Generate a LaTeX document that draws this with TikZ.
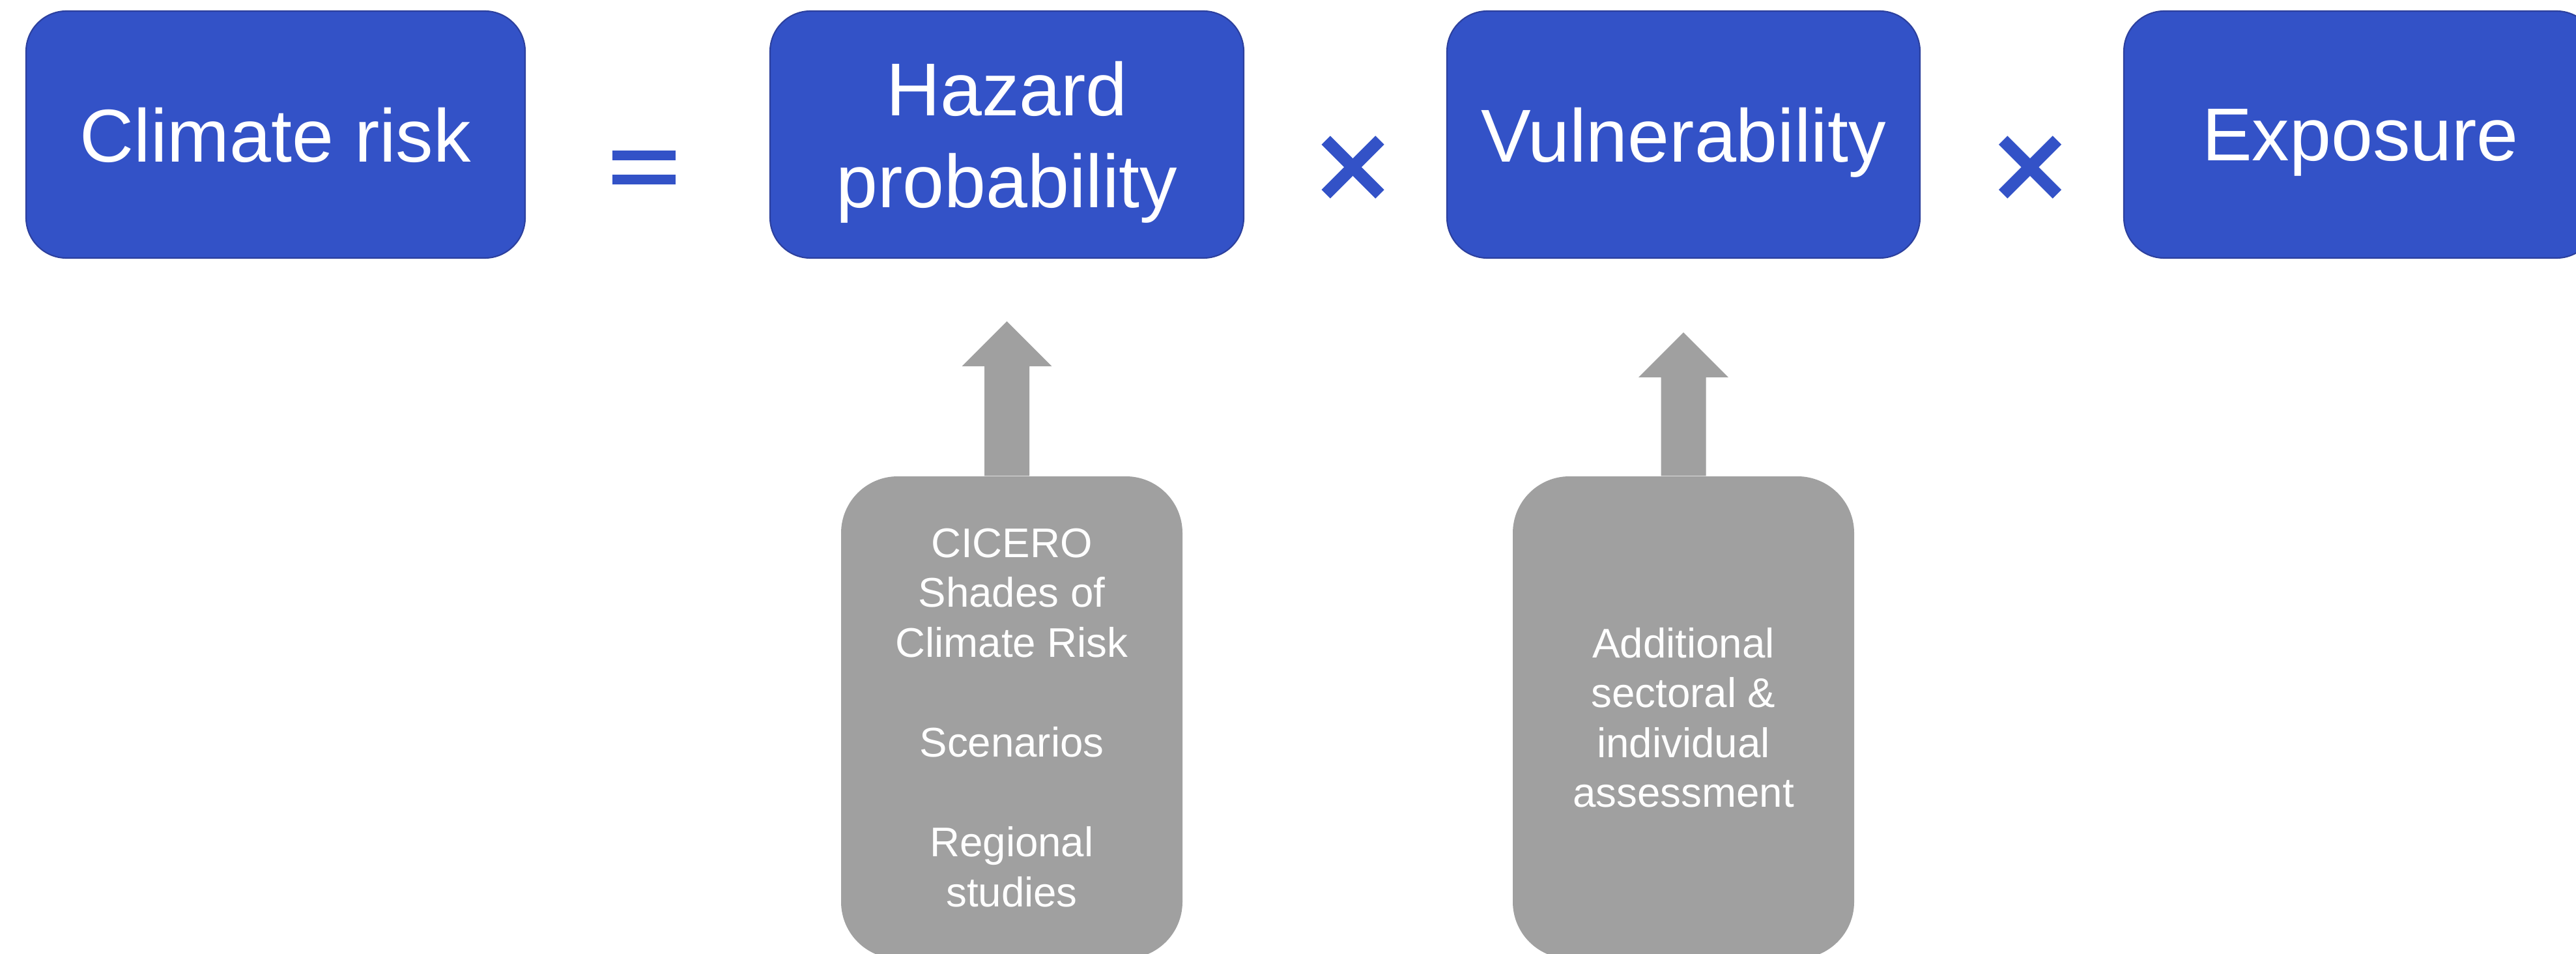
\documentclass[tikz,border=0pt]{standalone}
\usepackage{fontspec}
\setmainfont{Liberation Sans}
\usetikzlibrary{calc}

\definecolor{riskblue}{RGB}{51,82,199}
\definecolor{riskedge}{RGB}{44,64,158}
\definecolor{srcgrey}{RGB}{160,160,160}

\tikzset{
  factor/.style={draw=riskedge, line width=0.6pt, fill=riskblue, rounded corners=0.62cm,
    minimum width=7.26cm, minimum height=3.79cm, inner sep=0pt, text=white, align=center,
    font=\fontsize{32.7}{40.1}\selectfont, text depth=0pt},
  source/.style={fill=srcgrey, rounded corners=0.87cm, minimum width=5.24cm,
    minimum height=7.40cm, inner sep=0pt, text=white, align=center,
    font=\fontsize{18.1}{21.8}\selectfont, text depth=0pt},
}

% block arrow from a source box up to a tip
\newcommand{\liftarrow}[2]{%
  \fill[srcgrey] ($(#2 |- #1.north)+(-0.345,0)$) -- ($(#2)+(-0.345,-0.69)$)
    -- ($(#2)+(-0.69,-0.69)$) -- (#2) -- ($(#2)+(0.69,-0.69)$)
    -- ($(#2)+(0.345,-0.69)$) -- ($(#2 |- #1.north)+(0.345,0)$) -- cycle;}

\begin{document}
\begin{tikzpicture}
    \useasboundingbox (0,0) rectangle (39.54,-14.64);

    % Draw the factors
    \node[factor, minimum width=7.66cm] (climate) at (4.23,-2.065) {Climate risk};
    \node[factor, minimum width=7.27cm] (hazard) at (15.455,-2.065) {Hazard\\probability};
    \node[factor] (vuln) at (25.84,-2.065) {Vulnerability};
    \node[factor] (expo) at (36.23,-2.065) {Exposure};

    % Add the operators
    \fill[riskblue] (9.40,-2.31) rectangle (10.37,-2.46);
    \fill[riskblue] (9.40,-2.68) rectangle (10.37,-2.83);
    \foreach \c in {20.765,31.16} {
        \fill[riskblue, shift={(\c,-2.565)}, rotate=45] (-0.585,-0.095) rectangle (0.585,0.095);
        \fill[riskblue, shift={(\c,-2.565)}, rotate=-45] (-0.585,-0.095) rectangle (0.585,0.095);
    }

    % Add the sources
    \node[source] (cicero) at (15.53,-11.01)
        {CICERO\\Shades of\\Climate Risk\\[0.765cm]Scenarios\\[0.765cm]Regional\\studies};
    \node[source] (sector) at (25.84,-11.01)
        {Additional\\sectoral \&\\individual\\assessment};

    \coordinate (hazTip) at ([yshift=-0.96cm]hazard.south);
    \coordinate (vulnTip) at ([yshift=-1.13cm]vuln.south);
    \liftarrow{cicero}{hazTip}
    \liftarrow{sector}{vulnTip}
\end{tikzpicture}
\end{document}
